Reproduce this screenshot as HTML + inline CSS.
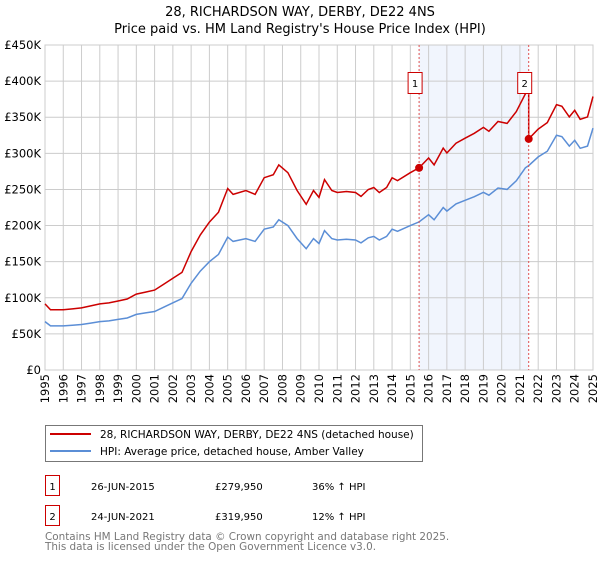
<!DOCTYPE html>
<html><head><meta charset="utf-8"><style>
body{margin:0;background:#fff;font-family:"DejaVu Sans","Liberation Sans",sans-serif;}
svg text{font-family:"DejaVu Sans","Liberation Sans",sans-serif;}
</style></head><body>
<svg id="chart" width="600" height="560" viewBox="0 0 600 560">
<text x="300" y="16" text-anchor="middle" font-size="13" fill="#000">28, RICHARDSON WAY, DERBY, DE22 4NS</text>
<text x="300" y="33" text-anchor="middle" font-size="13" fill="#000">Price paid vs. HM Land Registry's House Price Index (HPI)</text>
<g id="plot"></g>
<g>
<rect x="45.5" y="425.5" width="377" height="36" fill="#fff" stroke="#777"/>
<line x1="50" y1="434" x2="91" y2="434" stroke="#cc0000" stroke-width="2"/>
<text x="100" y="438" font-size="10.5">28, RICHARDSON WAY, DERBY, DE22 4NS (detached house)</text>
<line x1="50" y1="451" x2="91" y2="451" stroke="#5b8ed6" stroke-width="2"/>
<text x="100" y="455" font-size="10.5">HPI: Average price, detached house, Amber Valley</text>
</g>
<g>
<rect x="45.5" y="475.5" width="14" height="20" fill="#fff" stroke="#cc0000"/>
<text x="52.5" y="490" text-anchor="middle" font-size="10">1</text>
<text x="91" y="490" font-size="10">26-JUN-2015</text>
<text x="215" y="490" font-size="10">£279,950</text>
<text x="312" y="490" font-size="10">36% ↑ HPI</text>
<rect x="45.5" y="505.5" width="14" height="20" fill="#fff" stroke="#cc0000"/>
<text x="52.5" y="520" text-anchor="middle" font-size="10">2</text>
<text x="91" y="520" font-size="10">24-JUN-2021</text>
<text x="215" y="520" font-size="10">£319,950</text>
<text x="312" y="520" font-size="10">12% ↑ HPI</text>
</g>
<text x="45" y="540" font-size="10.4" fill="#777">Contains HM Land Registry data © Crown copyright and database right 2025.</text>
<text x="45" y="550" font-size="10.4" fill="#777">This data is licensed under the Open Government Licence v3.0.</text>
</svg>
<script>
const hpiYears = [1995,1995.3,1996,1996.5,1997,1997.5,1998,1998.5,1999,1999.5,2000,2000.5,2001,2001.5,2002,2002.5,2003,2003.5,2004,2004.5,2005,2005.3,2006,2006.5,2007,2007.5,2007.8,2008.3,2008.8,2009.3,2009.7,2010,2010.3,2010.7,2011,2011.5,2012,2012.3,2012.7,2013,2013.3,2013.7,2014,2014.3,2015,2015.48,2016,2016.3,2016.8,2017,2017.5,2018,2018.5,2019,2019.3,2019.8,2020.3,2020.8,2021.3,2021.48,2022,2022.5,2023,2023.3,2023.7,2024,2024.3,2024.7,2025];
const hpiValues = [67000,61000,61000,62000,63000,65000,67000,68000,70000,72000,77000,79000,81000,87000,93000,99000,120000,137000,150000,160000,184000,178000,182000,178000,195000,198000,208000,200000,182000,168000,182000,175000,193000,182000,180000,181000,180000,176000,183000,185000,180000,185000,195000,192000,200000,205000,215000,208000,225000,220000,230000,235000,240000,246000,242000,252000,250000,262000,280000,283000,295000,303000,325000,323000,310000,318000,307000,310000,335000];
const saleYears = [2015.48, 2021.48];
const salePrices = [279950, 319950];
const saleLabels = ["1","2"];
const yTicks = [0,50000,100000,150000,200000,250000,300000,350000,400000,450000];
const yTickLabels = ["£0","£50K","£100K","£150K","£200K","£250K","£300K","£350K","£400K","£450K"];
const xTicks = [1995,1996,1997,1998,1999,2000,2001,2002,2003,2004,2005,2006,2007,2008,2009,2010,2011,2012,2013,2014,2015,2016,2017,2018,2019,2020,2021,2022,2023,2024,2025];

const NS="http://www.w3.org/2000/svg";
const L=45,R=593,T=45,B=370;
const xS=y=>L+(y-1995)/(2025-1995)*(R-L);
const yS=v=>B-v/450000*(B-T);
const g=document.getElementById('plot');
function mk(tag,attrs,parent){const e=document.createElementNS(NS,tag);for(const k in attrs)e.setAttribute(k,attrs[k]);(parent||g).appendChild(e);return e;}
function hpiAt(y){for(let i=0;i<hpiYears.length-1;i++){if(y<=hpiYears[i+1]){const t=(y-hpiYears[i])/(hpiYears[i+1]-hpiYears[i]);return hpiValues[i]+t*(hpiValues[i+1]-hpiValues[i]);}}return hpiValues[hpiValues.length-1];}

const shade=mk('rect',{x:xS(saleYears[0]),y:T,width:xS(saleYears[1])-xS(saleYears[0]),height:B-T,fill:'#eef3fc',opacity:0.8});


yTicks.forEach((v,i)=>{
 const ln=mk('line',{x1:L,x2:R,y1:yS(v),y2:yS(v),stroke:'#ccc','stroke-width':1});
 
 
 const t=mk('text',{x:L-4,y:yS(v)+4,'text-anchor':'end','font-size':11.5,fill:'#000'});
 t.textContent=yTickLabels[i];
 
 
});
xTicks.forEach(y=>{
 const ln=mk('line',{x1:xS(y),x2:xS(y),y1:T,y2:B,stroke:'#ccc','stroke-width':1});
 
 
 const t=mk('text',{x:0,y:0,'text-anchor':'end','font-size':11.5,fill:'#000',transform:`translate(${xS(y)+4},${B+4}) rotate(-90)`});
 t.textContent=String(y);
 
 
});
const ax=mk('rect',{x:L,y:T,width:R-L,height:B-T,fill:'none',stroke:'#ccc'});



const bp=hpiYears.map((y,i)=>`${xS(y).toFixed(1)},${yS(hpiValues[i]).toFixed(1)}`).join(' ');
const blue=mk('polyline',{points:bp,fill:'none',stroke:'#5b8ed6','stroke-width':1.5});



const r1=salePrices[0]/hpiAt(saleYears[0]), r2=salePrices[1]/hpiAt(saleYears[1]);
const rp=[];
hpiYears.forEach((y,i)=>{ if(y<=saleYears[1]) rp.push([y,hpiValues[i]*r1]); });
rp.push([saleYears[1],hpiAt(saleYears[1])*r1]);
rp.push([saleYears[1],salePrices[1]]);
hpiYears.forEach((y,i)=>{ if(y>saleYears[1]) rp.push([y,hpiValues[i]*r2]); });
const red=mk('polyline',{points:rp.map(p=>`${xS(p[0]).toFixed(1)},${yS(p[1]).toFixed(1)}`).join(' '),fill:'none',stroke:'#cc0000','stroke-width':1.5});



saleYears.forEach((y,i)=>{
 const vl=mk('line',{x1:xS(y),x2:xS(y),y1:T,y2:B,stroke:'#e05050','stroke-width':1,'stroke-dasharray':'2,2'});
 
 
 const d=mk('circle',{cx:xS(y),cy:yS(salePrices[i]),r:4,fill:'#cc0000'});
 
 
 const bx=mk('rect',{x:xS(y)-11,y:72.5,width:14,height:21,fill:'#fff',stroke:'#cc0000'});
 
 
 const t=mk('text',{x:xS(y)-4,y:87,'text-anchor':'middle','font-size':10});
 t.textContent=saleLabels[i];
 
 
});
</script>
</body></html>
